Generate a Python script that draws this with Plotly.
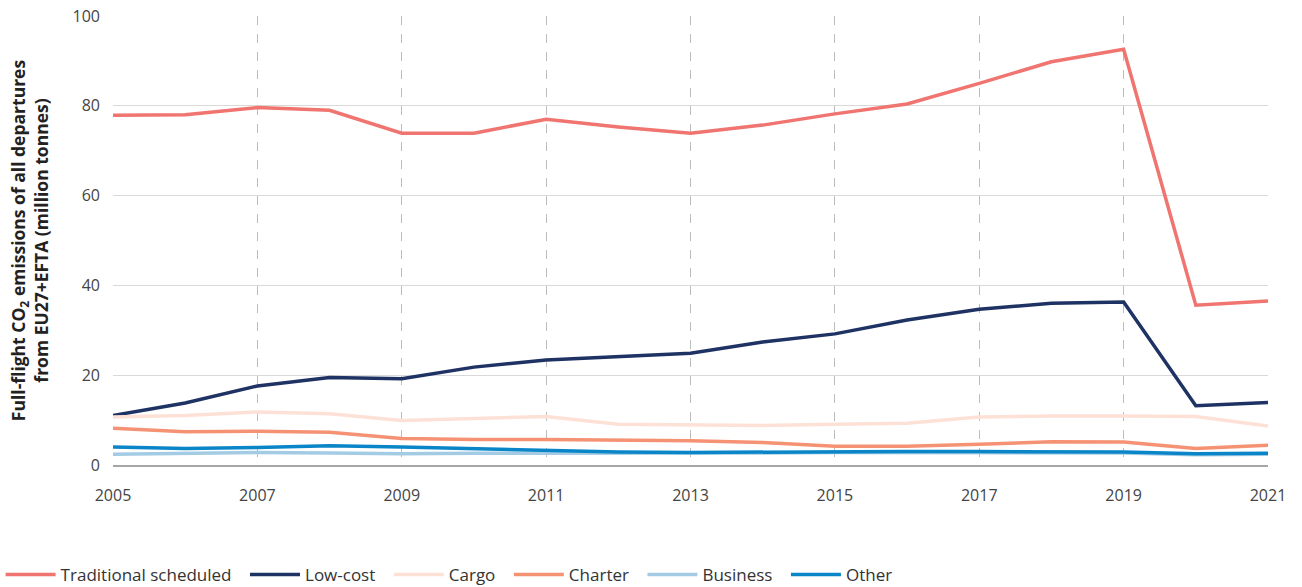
import plotly.graph_objects as go

years = list(range(2005, 2022))

traditional = [77.9, 78.0, 79.6, 79.0, 73.9, 73.9, 77.0, 75.3, 73.9, 75.7, 78.2, 80.4, 85.0, 89.8, 92.6, 35.6, 36.5]
low_cost = [11.0, 13.8, 17.6, 19.5, 19.2, 21.8, 23.4, 24.1, 24.9, 27.4, 29.2, 32.3, 34.7, 36.0, 36.3, 13.2, 13.9]
cargo = [10.7, 11.0, 11.8, 11.4, 9.9, 10.4, 10.8, 9.1, 8.9, 8.8, 9.1, 9.3, 10.7, 10.9, 10.9, 10.8, 8.7]
charter = [8.2, 7.4, 7.5, 7.3, 5.9, 5.7, 5.7, 5.6, 5.4, 5.0, 4.2, 4.2, 4.6, 5.2, 5.1, 3.7, 4.4]
business = [2.4, 2.6, 2.8, 2.7, 2.5, 2.6, 2.6, 2.7, 2.7, 2.7, 2.8, 2.8, 2.8, 2.8, 2.7, 2.3, 2.4]
other = [4.0, 3.7, 3.9, 4.3, 4.0, 3.6, 3.2, 2.9, 2.8, 2.9, 2.9, 3.0, 3.0, 3.0, 2.9, 2.5, 2.6]

series = [
    ("Traditional scheduled", traditional, "#f07470"),
    ("Low-cost", low_cost, "#1f3264"),
    ("Cargo", cargo, "#fde1d6"),
    ("Charter", charter, "#f69274"),
    ("Business", business, "#a3cbe4"),
    ("Other", other, "#0a86c8"),
]

x_ticks = list(range(2005, 2022, 2))
grid_years = list(range(2007, 2021, 2))

fig = go.Figure()

for name, values, color in series:
    fig.add_trace(
        go.Scatter(x=years, y=values, name=name + "\u2002", mode="lines",
                   line=dict(color=color, width=3.5))
    )

# invisible trace to carry the dashed vertical gridlines on a second axis
fig.add_trace(go.Scatter(x=[2005, 2021], y=[0, 0], xaxis="x2", mode="lines",
                         line=dict(width=0), showlegend=False, hoverinfo="skip"))

fig.update_layout(
    width=1302,
    height=587,
    margin=dict(l=113, r=34, t=16, b=122, autoexpand=False),
    paper_bgcolor="white",
    plot_bgcolor="white",
    font=dict(family="Open Sans", size=16, color="#444444"),
    xaxis=dict(
        range=[2005, 2021],
        tickvals=x_ticks,
        showgrid=False,
        showline=True,
        linecolor="#a6a6a6",
        linewidth=1.5,
        ticks="",
        ticklabelstandoff=15,
        ticklabeloverflow="allow",
        tickfont=dict(size=16, color="#444444"),
        zeroline=False,
        automargin=False,
    ),
    xaxis2=dict(
        overlaying="x",
        range=[2005, 2021],
        tickvals=grid_years,
        showticklabels=False,
        showgrid=True,
        gridcolor="#bdbdbd",
        griddash="dash",
        gridwidth=1,
        zeroline=False,
        layer="below traces",
    ),
    yaxis=dict(
        range=[0, 100],
        dtick=20,
        showgrid=True,
        gridcolor="#d9d9d9",
        gridwidth=1,
        zeroline=False,
        ticks="",
        ticklabelstandoff=12,
        ticklabeloverflow="allow",
        tickfont=dict(size=16, color="#444444"),
        automargin=False,
        title=dict(
            text="<b>Full-flight CO<sub>2</sub> emissions of all departures<br>from EU27+EFTA (million tonnes)</b>",
            font=dict(size=17.5, color="#222222"),
            standoff=19,
        ),
    ),
    legend=dict(
        orientation="h",
        x=-0.0973,
        xanchor="left",
        y=-0.245,
        yanchor="middle",
        font=dict(size=17, color="#333333"),
        itemwidth=50,
    ),
)

# drop the browser's default body margin so the figure fills the window
fig.write_html("out.html", config={"displayModeBar": False},
               post_script="document.body.style.margin = '0';")
